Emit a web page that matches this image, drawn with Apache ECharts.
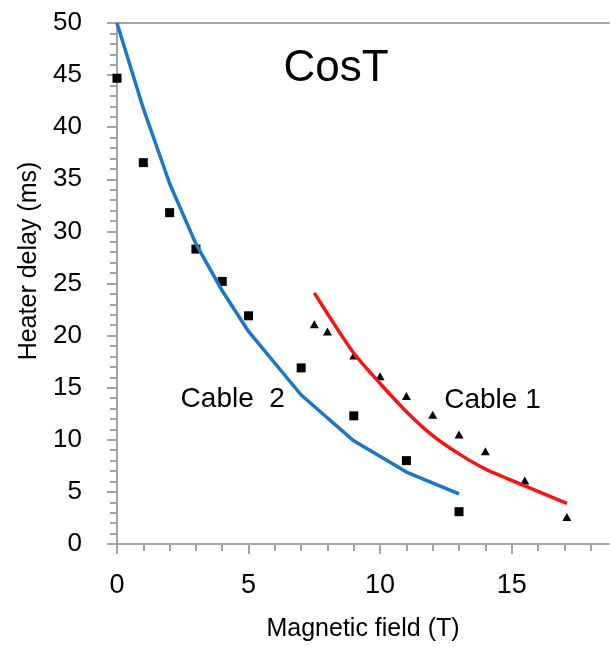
<!DOCTYPE html>
<html>
<head>
<meta charset="utf-8">
<script src="https://cdn.jsdelivr.net/npm/echarts@6/dist/echarts.min.js"></script>
<style>
  html, body { margin: 0; padding: 0; background: #fff; }
  #main { width: 610px; height: 647px; }
</style>
</head>
<body>
<div id="main"></div>
<script>
// measured points (cable 2 = squares, cable 1 = triangles)
var cable2Field = [0, 1, 2, 3, 4, 5, 7, 9, 11, 13]
var cable2Delay = [44.7, 36.6, 31.8, 28.3, 25.2, 21.9, 16.9, 12.3, 8.0, 3.1]
var cable1Field = [7.5, 8, 9, 10, 11, 12, 13, 14, 15.5, 17.1]
var cable1Delay = [21.1, 20.4, 18.1, 16.1, 14.2, 12.4, 10.5, 8.9, 6.1, 2.6]

// model curves
var fit2Field = [0, 1, 2, 3, 4, 5, 7, 9, 11, 13]
var fit2Delay = [50, 41.8, 34.6, 28.8, 24.3, 20.4, 14.3, 9.9, 6.9, 4.8]
var fit1Field = [7.5, 8, 9, 10, 11, 12, 13, 14, 15, 16, 17.1]
var fit1Delay = [24.1, 22.1, 18.3, 15.4, 12.7, 10.4, 8.65, 7.2, 6.1, 5.05, 3.9]

// axis ticks
var xMajorTicks = [0, 5, 10, 15]
var xMinorTicks = [0, 1, 2, 3, 4, 5, 6, 7, 8, 9, 10, 11, 12, 13, 14, 15, 16, 17, 18]

// text labels placed in data coordinates
var annotations = [
  { text: 'Cable  2', x: 4.4, y: 13.9 },
  { text: 'Cable 1', x: 14.27, y: 13.8 }
]

function zip(xs, ys) {
  return xs.map(function(x, i) { return [x, ys[i]] })
}

var font = 'Liberation Sans, Arial, Helvetica, sans-serif'
var axisGray = '#a3a3a3'

var chart = echarts.init(document.getElementById('main'))
chart.setOption({
  backgroundColor: '#fff',
  animation: false,
  grid: { left: 117, right: 1, top: 23, bottom: 102 },
  graphic: [
    {
      type: 'text', x: 336, y: 69,
      style: { text: 'CosT', font: '44px ' + font, fill: '#000', align: 'center', verticalAlign: 'middle' }
    },
    {
      type: 'text', x: 29, y: 261, rotation: Math.PI / 2,
      style: { text: 'Heater delay (ms)', font: '25px ' + font, fill: '#000', align: 'center', verticalAlign: 'middle' }
    }
  ],
  xAxis: [
    {
      // minor ticks + axis line, data axis
      type: 'value', position: 'bottom', min: 0, max: 18.7,
      axisLine: { show: true, lineStyle: { color: axisGray, width: 2 } },
      axisTick: { show: true, customValues: xMinorTicks, length: 7, lineStyle: { color: axisGray, width: 2 } },
      axisLabel: { show: false },
      splitLine: { show: false },
      name: 'Magnetic field (T)',
      nameLocation: 'middle',
      nameGap: 73,
      nameTextStyle: { fontFamily: font, fontSize: 25, color: '#000' }
    },
    {
      // major ticks + labels
      type: 'value', position: 'bottom', min: 0, max: 18.7,
      axisLine: { show: false },
      axisTick: { show: true, customValues: xMajorTicks, length: 10, lineStyle: { color: axisGray, width: 2 } },
      axisLabel: { show: true, customValues: xMajorTicks, fontFamily: font, fontSize: 27, color: '#000', margin: 28 },
      splitLine: { show: false }
    },
    {
      // top frame line
      type: 'value', position: 'top', min: 0, max: 18.7,
      axisLine: { show: true, lineStyle: { color: axisGray, width: 2 } },
      axisTick: { show: false },
      axisLabel: { show: false },
      splitLine: { show: false }
    }
  ],
  yAxis: {
    type: 'value', min: 0, max: 50, interval: 5,
    axisLine: { show: true, lineStyle: { color: axisGray, width: 2 } },
    axisTick: { show: true, length: 10, lineStyle: { color: axisGray, width: 2 } },
    minorTick: { show: true, splitNumber: 5, length: 7, lineStyle: { color: axisGray, width: 2 } },
    axisLabel: { fontFamily: font, fontSize: 26, color: '#000', margin: 35 },
    splitLine: { show: false }
  },
  series: [
    {
      name: 'Cable 2 model', type: 'line', xAxisIndex: 0,
      data: zip(fit2Field, fit2Delay),
      showSymbol: false, symbol: 'none',
      lineStyle: { color: '#1a76c6', width: 3.5 }
    },
    {
      name: 'Cable 1 model', type: 'line', xAxisIndex: 0,
      data: zip(fit1Field, fit1Delay),
      showSymbol: false, symbol: 'none', smooth: 0.2,
      lineStyle: { color: '#ff1010', width: 3.5 }
    },
    {
      name: 'Cable 2', type: 'scatter', xAxisIndex: 0,
      data: zip(cable2Field, cable2Delay),
      symbol: 'rect', symbolSize: 9,
      itemStyle: { color: '#000', opacity: 1 }
    },
    {
      name: 'Cable 1', type: 'scatter', xAxisIndex: 0,
      data: zip(cable1Field, cable1Delay),
      symbol: 'triangle', symbolSize: [9, 8],
      itemStyle: { color: '#000', opacity: 1 }
    },
    {
      name: 'labels', type: 'scatter', xAxisIndex: 0,
      symbolSize: 0, silent: true,
      itemStyle: { opacity: 1 },
      data: annotations.map(function(a) { return { value: [a.x, a.y], name: a.text } }),
      label: {
        show: true, position: 'inside', formatter: '{b}',
        fontFamily: font, fontSize: 28, color: '#000'
      }
    }
  ]
})
</script>
</body>
</html>
